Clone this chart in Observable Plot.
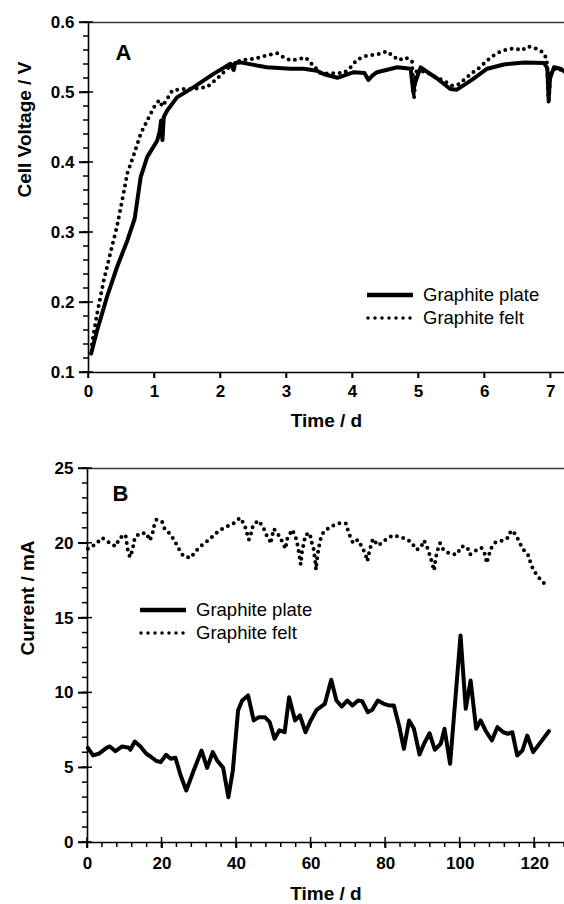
<!DOCTYPE html>
<html><head><meta charset="utf-8">
<script src="https://cdn.jsdelivr.net/npm/d3@7"></script>
<script src="https://cdn.jsdelivr.net/npm/@observablehq/plot@0.6"></script>
<style>
html,body{margin:0;padding:0;background:#fff;overflow:hidden;width:564px;height:904px;font-family:"Liberation Sans",Arial,sans-serif;}
.panel{position:relative;width:564px;}
.panel > svg{display:block;}
svg.leg{position:absolute;left:0;top:0;pointer-events:none;background:none;overflow:visible;}
</style></head><body>
<div id="a" class="panel"></div>
<div id="b" class="panel"></div>
<script>
// ---- Panel A data: cell voltage (V) vs time (d)
const plateA_t = [0.04,0.13,0.28,0.43,0.59,0.70,0.79,0.89,1.04,1.08,1.10,1.12,1.14,1.19,1.34,1.6,1.9,2.15,2.2,2.22,2.3,2.7,3.06,3.26,3.46,3.57,3.77,4.02,4.18,4.24,4.3,4.37,4.68,4.88,4.92,4.94,5.03,5.28,5.48,5.58,5.79,6.04,6.29,6.6,6.9,6.95,6.97,6.99,7.05,7.15,7.21];
const plateA_v = [0.127,0.16,0.208,0.25,0.289,0.32,0.379,0.408,0.431,0.445,0.46,0.432,0.465,0.474,0.493,0.508,0.527,0.541,0.532,0.542,0.543,0.536,0.534,0.534,0.531,0.526,0.521,0.529,0.528,0.518,0.524,0.529,0.536,0.534,0.500,0.512,0.536,0.52,0.505,0.504,0.517,0.534,0.54,0.543,0.542,0.535,0.489,0.52,0.536,0.534,0.53];
const feltA_t = [0.05,0.13,0.23,0.33,0.43,0.51,0.59,0.69,0.79,0.89,0.99,1.07,1.12,1.27,1.42,1.6,1.8,1.95,2.1,2.3,2.5,2.7,2.86,2.96,3.06,3.16,3.29,3.36,3.52,3.87,3.97,4.07,4.2,4.4,4.52,4.6,4.7,4.8,4.9,4.93,4.96,5.1,5.28,5.38,5.51,5.61,5.71,5.81,5.93,6.03,6.14,6.25,6.37,6.47,6.56,6.66,6.77,6.89,6.94,6.97,7.0,7.1,7.2];
const feltA_v = [0.14,0.184,0.231,0.27,0.308,0.346,0.385,0.412,0.441,0.46,0.479,0.489,0.48,0.503,0.505,0.505,0.508,0.52,0.534,0.546,0.548,0.553,0.556,0.55,0.546,0.547,0.55,0.543,0.527,0.528,0.536,0.547,0.552,0.555,0.559,0.553,0.546,0.55,0.545,0.491,0.53,0.53,0.521,0.517,0.51,0.512,0.52,0.528,0.536,0.545,0.553,0.559,0.562,0.563,0.56,0.566,0.563,0.557,0.548,0.484,0.53,0.535,0.53];
const yDomainA = [0.1, 0.6];
const xDomainA = [0, 7.21];
const yTicksA = [0.1,0.2,0.3,0.4,0.5,0.6];
const yMinorA = d3.range(10,61,2).map(d => d/100);
const xTicksA = [0,1,2,3,4,5,6,7];

// ---- Panel B data: current (mA) vs time (d)
const plateB_t = [0.1,1.5,3.0,5.1,6.0,7.5,9.3,11.1,11.5,12.7,14.2,15.8,16.9,18.3,19.6,21.1,22.3,23.6,25.0,26.5,28.5,30.6,32.1,33.6,34.8,36.4,37.8,39.0,40.4,41.5,43.1,44.6,46.0,47.6,48.9,50.2,51.5,52.9,54.1,55.7,57.0,58.5,59.9,61.5,63.7,65.4,66.8,68.2,69.7,71.1,72.6,73.7,75.2,76.4,77.9,79.5,80.9,82.2,83.6,84.9,86.3,87.6,89.1,90.3,91.8,93.2,94.8,95.8,97.3,100.1,101.5,102.8,104.3,105.5,106.8,108.5,110.0,111.6,112.8,114.0,115.3,116.7,118.0,119.6,123.8];
const plateB_i = [6.33,5.82,5.93,6.33,6.42,6.1,6.42,6.33,6.2,6.75,6.42,5.93,5.75,5.48,5.37,5.86,5.6,5.66,4.48,3.48,4.81,6.15,4.99,6.04,5.48,4.99,3.03,4.81,8.82,9.49,9.83,8.16,8.38,8.38,8.04,6.93,7.5,7.37,9.71,8.16,8.49,7.37,8.16,8.87,9.27,10.88,9.49,9.09,9.49,9.16,9.49,9.45,8.71,8.87,9.49,9.27,9.16,9.16,7.82,6.26,8.16,7.6,5.88,6.6,7.3,6.2,6.6,7.6,5.26,13.84,8.94,10.83,7.6,8.16,7.49,6.82,7.71,7.37,7.27,7.37,5.82,6.15,7.15,6.04,7.44];
const feltB_t = [0.1,2.1,3.9,5.7,7.5,8.7,10.2,10.8,11.4,12.0,12.4,12.7,14.2,15.8,16.7,17.4,17.8,18.5,20.0,20.7,22.3,23.4,24.5,25.7,27.7,29.0,30.8,32.6,34.5,36.2,38.4,39.7,40.9,42.1,42.7,43.3,44.0,44.4,45.8,47.1,47.8,48.9,49.1,50.0,51.6,52.5,53.2,53.4,54.9,55.8,56.3,56.7,57.0,57.2,57.6,58.1,58.5,59.7,60.0,60.6,60.9,61.2,61.3,61.7,62.1,62.5,63.3,65.2,67.5,69.3,69.9,70.6,71.3,72.5,73.7,74.6,75.1,75.5,76.0,76.6,78.0,80.0,81.8,83.6,85.4,86.9,88.3,89.4,90.3,91.2,91.9,92.5,93.0,93.4,93.9,94.6,95.6,97.4,99.1,100.4,101.9,102.6,103.9,105.7,106.8,107.1,107.7,108.2,109.5,111.6,112.8,113.7,114.9,115.8,116.8,118.2,118.9,119.6,121.0,122.5];
const feltB_i = [19.63,19.92,20.37,20.07,19.79,20.37,20.57,19.57,19.07,19.5,19.97,20.41,20.68,20.68,20.19,20.59,21.12,21.57,21.46,20.97,20.59,20.14,19.63,19.14,19.03,19.47,19.9,20.23,20.68,20.97,21.24,21.41,21.70,21.26,20.74,20.23,20.74,21.19,21.52,21.12,20.64,20.19,19.97,20.97,20.45,19.97,19.63,20.19,20.9,20.45,19.97,19.41,18.96,18.58,19.52,20.07,20.57,20.68,20.19,19.74,19.18,18.63,18.23,19.18,19.74,20.25,20.74,21.12,21.34,21.34,20.86,20.37,20.01,20.23,19.74,19.25,18.8,19.3,19.79,20.3,19.85,20.23,20.52,20.45,20.30,20.07,19.57,19.70,20.19,19.7,19.18,18.67,18.18,18.96,19.52,20.01,19.52,19.3,19.25,19.79,19.74,19.25,19.47,19.7,19.18,18.67,19.18,19.63,20.07,20.19,20.37,20.86,20.59,20.12,19.63,19.23,18.7,18.23,17.73,17.33];
const yDomainB = [0, 25];
const xDomainB = [0, 128];
const yTicksB = [0,5,10,15,20,25];
const yMinorB = d3.range(0,26,1);
const xTicksB = [0,20,40,60,80,100,120];
const xMinorB = d3.range(0,129,4);

const seriesNames = ["Graphite plate", "Graphite felt"];

const FONT = "Liberation Sans, Arial, Helvetica, sans-serif";
const zip = (t, v) => t.map((d, i) => ({t: d, v: v[i]}));
const dotted = {strokeDasharray: "0 6.5", strokeLinecap: "round"};
const blank = () => "";

function panel({el, width, height, mt, mb, ml, xDom, yDom, xTicks, xMinor, xIn, yTicks, yMinor, yFmt, plate, felt, ylabel, letter, letterDx, letterDy, ylabDx, xlabDy, xPad, yPad, legX, legY}) {
  const chart = Plot.plot({
    width, height, marginTop: mt, marginBottom: mb, marginLeft: ml, marginRight: 0,
    x: {domain: xDom}, y: {domain: yDom},
    style: {fontFamily: FONT, color: "#000", background: "transparent", overflow: "visible"},
    marks: [
      Plot.ruleX([xDom[0]], {strokeWidth: 1.6}),
      Plot.ruleY([yDom[0]], {strokeWidth: 1.6}),
      Plot.ruleY([yDom[1]], {stroke: "#3a3a3a", strokeWidth: 1.3}),
      Plot.line(plate, {x: "t", y: "v", strokeWidth: 4, stroke: "#000"}),
      Plot.line(felt, {x: "t", y: "v", strokeWidth: 4, stroke: "#000", ...dotted}),
      Plot.axisY(yTicks, {tickSize: 9, strokeWidth: 1.5, tickPadding: yPad, tickFormat: yFmt, fontSize: 17, fontWeight: "bold", letterSpacing: "0.5px", label: null}),
      Plot.axisX(xTicks, {tickSize: 6, strokeWidth: 1.5, tickPadding: xPad, fontSize: 17, fontWeight: "bold", letterSpacing: "0.5px", label: null}),
      Plot.text([ylabel], {frameAnchor: "left", dx: ylabDx, rotate: -90, fontSize: 19, fontWeight: "bold"}),
      Plot.text(["Time / d"], {frameAnchor: "bottom", dy: xlabDy, lineAnchor: "middle", fontSize: 19, fontWeight: "bold"}),
      Plot.text([letter], {frameAnchor: "top-left", dx: letterDx, dy: letterDy, textAnchor: "start", lineAnchor: "middle", fontSize: 22, fontWeight: "bold"})
    ]
  });
  document.getElementById(el).appendChild(chart);

  // overlay: tick marks positioned through the chart's own scales, plus the legend
  const sx = chart.scale("x"), sy = chart.scale("y");
  const x0 = sx.apply(xDom[0]), y0 = sy.apply(yDom[0]);
  const ov = d3.select("#" + el).append("svg").attr("class", "leg").attr("width", width).attr("height", height);
  const g = ov.append("g").attr("stroke", "#000").attr("stroke-width", 1.5);
  yMinor.forEach(v => { const y = sy.apply(v); g.append("line").attr("x1", x0 - 5).attr("x2", x0).attr("y1", y).attr("y2", y); });
  yTicks.forEach(v => { const y = sy.apply(v); g.append("line").attr("x1", x0 - 9).attr("x2", x0 + 5).attr("y1", y).attr("y2", y); });
  (xMinor || []).forEach(v => { const x = sx.apply(v); g.append("line").attr("x1", x).attr("x2", x).attr("y1", y0).attr("y2", y0 + 5); });
  xTicks.forEach(v => { const x = sx.apply(v); g.append("line").attr("x1", x).attr("x2", x).attr("y1", y0 - (xIn ? 5 : 0)).attr("y2", y0 + 6); });

  seriesNames.forEach((name, i) => {
    const y = legY + i * 23;
    const ln = ov.append("line").attr("x1", legX).attr("x2", legX + 46).attr("y1", y).attr("y2", y).attr("stroke", "#000");
    if (i === 0) ln.attr("stroke-width", 4.5);
    else ln.attr("x1", legX + 1).attr("stroke-width", 3.5).attr("stroke-dasharray", "0 7").attr("stroke-linecap", "round");
    ov.append("text").attr("x", legX + 56).attr("y", y).attr("dy", "0.35em").attr("font-family", FONT).attr("font-size", 18.5).text(name);
  });
}

panel({el: "a", width: 564, height: 440, mt: 22, mb: 68, ml: 88, xDom: xDomainA, yDom: yDomainA,
  xTicks: xTicksA, xMinor: null, xIn: false, yTicks: yTicksA, yMinor: yMinorA, yFmt: d => d.toFixed(1),
  plate: zip(plateA_t, plateA_v), felt: zip(feltA_t, feltA_v),
  ylabel: "Cell Voltage / V", letter: "A", letterDx: 27, letterDy: 30, ylabDx: -64, xlabDy: 48, xPad: 6, yPad: 5,
  legX: 367, legY: 295});

panel({el: "b", width: 564, height: 464, mt: 28, mb: 62, ml: 87, xDom: xDomainB, yDom: yDomainB,
  xTicks: xTicksB, xMinor: xMinorB, xIn: true, yTicks: yTicksB, yMinor: yMinorB, yFmt: d => String(d),
  plate: zip(plateB_t, plateB_i), felt: zip(feltB_t, feltB_i),
  ylabel: "Current / mA", letter: "B", letterDx: 25, letterDy: 25, ylabDx: -60, xlabDy: 51, xPad: 8, yPad: 5,
  legX: 140, legY: 170});
</script>
</body></html>
